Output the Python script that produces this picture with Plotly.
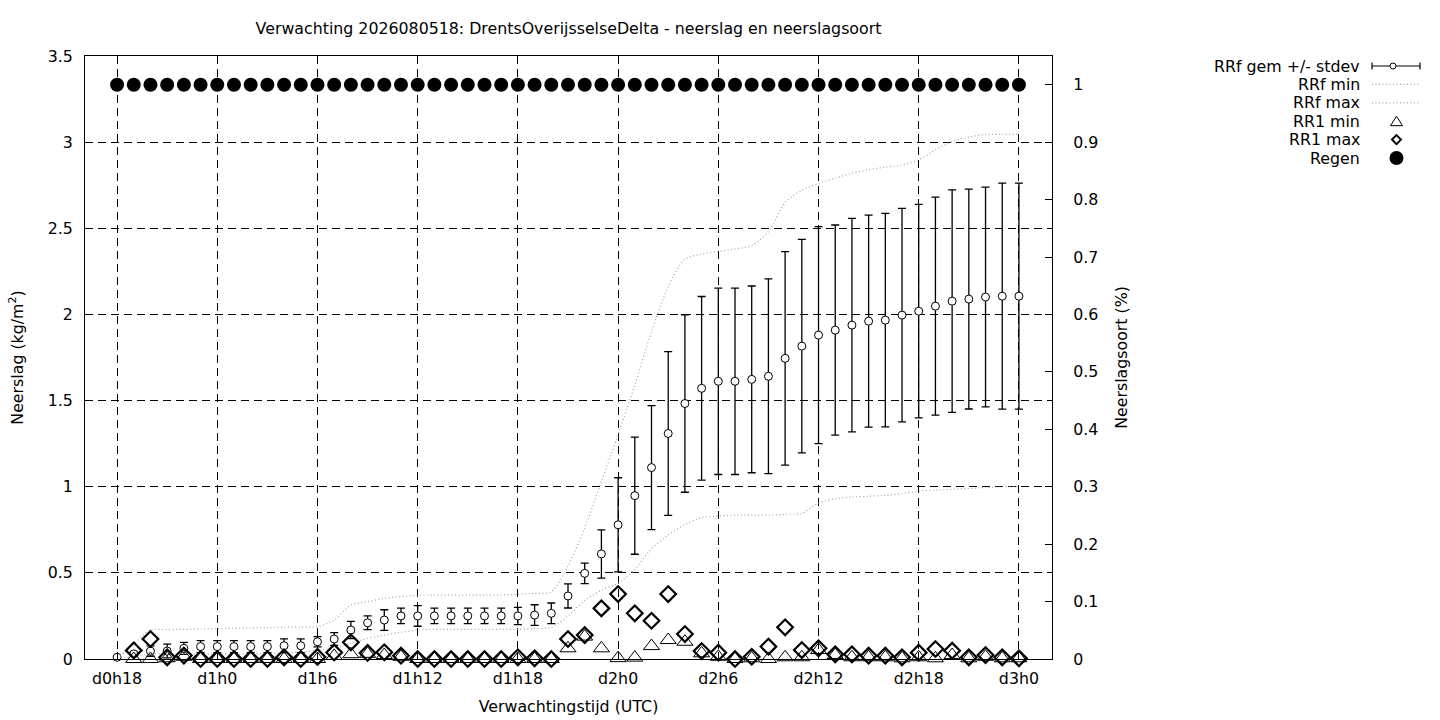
import plotly.graph_objects as go

# ---- data ----
lead_hours = list(range(18, 73))  # forecast hours d0h18 .. d3h0

tick_hours = [18, 24, 30, 36, 42, 48, 54, 60, 66, 72]
tick_labels = ["d0h18", "d1h0", "d1h6", "d1h12", "d1h18", "d2h0", "d2h6", "d2h12", "d2h18", "d3h0"]

rrf_mean = [0.01, 0.03, 0.046, 0.046, 0.062, 0.072, 0.072, 0.072, 0.072, 0.072,
            0.077, 0.077, 0.1, 0.116, 0.168, 0.21, 0.226, 0.25, 0.25, 0.25,
            0.25, 0.25, 0.25, 0.25, 0.25, 0.255, 0.265, 0.366, 0.497, 0.61,
            0.779, 0.948, 1.111, 1.309, 1.483, 1.571, 1.612, 1.612, 1.623, 1.641,
            1.745, 1.816, 1.88, 1.909, 1.938, 1.961, 1.967, 1.996, 2.019, 2.048,
            2.077, 2.089, 2.101, 2.106, 2.106]

rrf_std = [0.0, 0.01, 0.03, 0.04, 0.035, 0.035, 0.035, 0.035, 0.035, 0.035,
           0.04, 0.04, 0.03, 0.037, 0.05, 0.04, 0.06, 0.045, 0.06, 0.045,
           0.045, 0.045, 0.045, 0.045, 0.05, 0.06, 0.06, 0.07, 0.06, 0.14,
           0.273, 0.34, 0.36, 0.475, 0.515, 0.533, 0.541, 0.541, 0.542, 0.565,
           0.62, 0.62, 0.63, 0.61, 0.62, 0.615, 0.62, 0.62, 0.62, 0.633,
           0.646, 0.638, 0.638, 0.656, 0.656]

rrf_min = [0.0, 0.015, 0.03, 0.03, 0.03, 0.03, 0.03, 0.03, 0.03, 0.032,
           0.035, 0.04, 0.05, 0.065, 0.09, 0.12, 0.139, 0.155, 0.168, 0.172,
           0.172, 0.172, 0.172, 0.172, 0.172, 0.176, 0.184, 0.25, 0.34, 0.40,
           0.44, 0.52, 0.64, 0.72, 0.78, 0.82, 0.83, 0.835, 0.835, 0.835,
           0.84, 0.845, 0.905, 0.93, 0.94, 0.945, 0.95, 0.96, 0.975, 0.98,
           0.985, 0.99, 0.995, 1.0, 1.0]

rrf_max = [0.0, 0.085, 0.168, 0.17, 0.172, 0.174, 0.176, 0.178, 0.18, 0.182,
           0.184, 0.186, 0.188, 0.226, 0.313, 0.333, 0.352, 0.362, 0.371, 0.371,
           0.371, 0.371, 0.371, 0.371, 0.375, 0.381, 0.39, 0.54, 0.76, 1.03,
           1.30, 1.59, 1.90, 2.16, 2.32, 2.35, 2.365, 2.38, 2.40, 2.48,
           2.65, 2.72, 2.76, 2.79, 2.82, 2.84, 2.855, 2.868, 2.897, 2.955,
           3.004, 3.03, 3.045, 3.045, 3.045]

rr1_min = [None, 0.0, 0.0, 0.004, 0.013, 0.0, 0.0, 0.0, 0.0, 0.0,
           0.0, 0.0, 0.0, 0.018, 0.028, 0.03, 0.023, 0.013, 0.0, 0.0,
           0.0, 0.0, 0.0, 0.0, 0.0, 0.0, 0.0, 0.062, 0.13, 0.062,
           0.005, 0.008, 0.075, 0.11, 0.1, 0.033, 0.013, 0.0, 0.004, 0.0,
           0.01, 0.01, 0.052, 0.023, 0.01, 0.01, 0.01, 0.004, 0.01, 0.004,
           0.023, 0.004, 0.013, 0.004, 0.004]

rr1_max = [None, 0.05, 0.116, 0.01, 0.02, 0.0, 0.0, 0.0, 0.0, 0.0,
           0.01, 0.0, 0.012, 0.038, 0.097, 0.035, 0.039, 0.019, 0.0, 0.0,
           0.0, 0.0, 0.0, 0.0, 0.01, 0.004, 0.0, 0.116, 0.139, 0.294,
           0.377, 0.265, 0.222, 0.377, 0.145, 0.046, 0.037, 0.0, 0.013, 0.072,
           0.184, 0.052, 0.062, 0.027, 0.027, 0.019, 0.019, 0.01, 0.037, 0.058,
           0.048, 0.01, 0.023, 0.01, 0.004]

regen = [1.0] * 55

series_names = ["RRf gem +/- stdev", "RRf min", "RRf max", "RR1 min", "RR1 max", "Regen"]

# ---- figure ----
FONT = "DejaVu Sans"
FS = 15.8
GREY = "#a4a4a4"

# plot area in pixels (from the reference)
PL, PR, PT, PB = 85, 1052, 56, 659
W, H = 1440, 720


def px_x(px):
    return (px - PL) / (PR - PL)


def px_y(py):
    return (PB - py) / (PB - PT)


fig = go.Figure()

fig.add_trace(go.Scatter(
    x=lead_hours, y=rrf_mean, mode="markers", name=series_names[0], cliponaxis=False,
    marker=dict(symbol="circle", size=8, color="white", line=dict(color="black", width=1)),
    error_y=dict(type="data", array=rrf_std, symmetric=True, color="black", thickness=1.3, width=4),
))
fig.add_trace(go.Scatter(
    x=lead_hours, y=rrf_min, mode="lines", name=series_names[1],
    line=dict(color=GREY, width=1.2, dash="1px,2.5px", shape="spline", smoothing=0.8),
))
fig.add_trace(go.Scatter(
    x=lead_hours, y=rrf_max, mode="lines", name=series_names[2],
    line=dict(color=GREY, width=1.2, dash="1px,2.5px", shape="spline", smoothing=0.8),
))
fig.add_trace(go.Scatter(
    x=lead_hours, y=rr1_min, mode="markers", name=series_names[3], cliponaxis=False,
    marker=dict(symbol="triangle-up-open", size=14, color="black", line=dict(color="black", width=1)),
))
fig.add_trace(go.Scatter(
    x=lead_hours, y=rr1_max, mode="markers", name=series_names[4], cliponaxis=False,
    marker=dict(symbol="diamond-open", size=12, color="black", line=dict(color="black", width=2.2)),
))
fig.add_trace(go.Scatter(
    x=lead_hours, y=regen, mode="markers", name=series_names[5], yaxis="y2", cliponaxis=False,
    marker=dict(symbol="circle", size=14, color="black"),
))

# ---- gnuplot-style key: text right-aligned, sample to the right ----
row_y = [66, 84.4, 102.8, 121.2, 139.6, 158]
text_right = 1362
key_l, key_r, key_c = 1372, 1420, 1396.5
shapes = []
annotations = []
for name, ry in zip(series_names, row_y):
    annotations.append(dict(text=name, x=px_x(text_right), y=px_y(ry), xref="paper", yref="paper",
                            xanchor="right", yanchor="middle", showarrow=False,
                            font=dict(family=FONT, size=FS, color="black")))

# errorbar sample
r0 = row_y[0]
shapes.append(dict(type="line", xref="paper", yref="paper", x0=px_x(key_l), x1=px_x(key_r),
                   y0=px_y(r0), y1=px_y(r0), line=dict(color="black", width=1.2)))
for kx in (key_l, key_r):
    shapes.append(dict(type="line", xref="paper", yref="paper", x0=px_x(kx), x1=px_x(kx),
                       y0=px_y(r0 - 3.5), y1=px_y(r0 + 3.5), line=dict(color="black", width=1.2)))
shapes.append(dict(type="circle", xref="paper", yref="paper", x0=px_x(1390), x1=px_x(1396),
                   y0=px_y(r0 - 3), y1=px_y(r0 + 3), fillcolor="white", line=dict(color="black", width=1)))
# dotted samples
for ry in row_y[1:3]:
    shapes.append(dict(type="line", xref="paper", yref="paper", x0=px_x(key_l), x1=px_x(key_r),
                       y0=px_y(ry), y1=px_y(ry), line=dict(color=GREY, width=1.2, dash="1px,2.5px")))
# triangle sample
r3 = row_y[3]
tri = "M {a},{b} L {c},{d} L {e},{d} Z".format(
    a=px_x(key_c), b=px_y(r3 - 5), c=px_x(key_c - 6), d=px_y(r3 + 4.5), e=px_x(key_c + 6))
shapes.append(dict(type="path", xref="paper", yref="paper", path=tri, line=dict(color="black", width=1)))
# diamond sample
r4 = row_y[4]
dia = "M {a},{t} L {r},{m} L {a},{b} L {l},{m} Z".format(
    a=px_x(key_c), t=px_y(r4 - 4.5), r=px_x(key_c + 4.5), m=px_y(r4), b=px_y(r4 + 4.5), l=px_x(key_c - 4.5))
shapes.append(dict(type="path", xref="paper", yref="paper", path=dia, line=dict(color="black", width=2)))
# filled circle sample
r5 = row_y[5]
shapes.append(dict(type="circle", xref="paper", yref="paper", x0=px_x(key_c - 7), x1=px_x(key_c + 7),
                   y0=px_y(r5 - 7), y1=px_y(r5 + 7), fillcolor="black", line=dict(color="black", width=0)))

fig.update_layout(
    width=W, height=H,
    paper_bgcolor="white", plot_bgcolor="white",
    font=dict(family=FONT, size=FS, color="black"),
    margin=dict(l=PL, r=W - PR, t=PT, b=H - PB, autoexpand=False),
    title=dict(text="Verwachting 2026080518: DrentsOverijsselseDelta - neerslag en neerslagsoort",
               x=(PL + PR) / 2 / W, xanchor="center", y=1 - 28 / H, yanchor="middle",
               yref="container", font=dict(family=FONT, size=FS)),
    xaxis=dict(
        range=[16.08, 73.98], tickmode="array", tickvals=tick_hours, ticktext=tick_labels,
        ticks="inside", ticklen=7, tickcolor="black", mirror="ticks",
        showline=True, linecolor="black", linewidth=1,
        showgrid=True, gridcolor="black", gridwidth=1, griddash="8px,5px",
        zeroline=False, ticklabelstandoff=5, automargin=False,
        title=dict(text="Verwachtingstijd (UTC)", standoff=13, font=dict(size=FS)),
    ),
    yaxis=dict(
        range=[0, 3.5], dtick=0.5, tick0=0,
        ticks="inside", ticklen=7, tickcolor="black",
        showline=True, linecolor="black", linewidth=1, mirror=True,
        showgrid=True, gridcolor="black", gridwidth=1, griddash="8px,5px",
        zeroline=False, ticklabelstandoff=8, automargin=False,
        title=dict(text="Neerslag (kg/m<sup>2</sup>)", standoff=20, font=dict(size=FS)),
    ),
    yaxis2=dict(
        overlaying="y", side="right", range=[0, 1.05],
        tickmode="array", tickvals=[0, 0.1, 0.2, 0.3, 0.4, 0.5, 0.6, 0.7, 0.8, 0.9, 1.0],
        ticktext=["0", "0.1", "0.2", "0.3", "0.4", "0.5", "0.6", "0.7", "0.8", "0.9", "1"],
        ticks="inside", ticklen=7, tickcolor="black",
        showline=True, linecolor="black", linewidth=1,
        showgrid=False, zeroline=False, ticklabelstandoff=17, automargin=False,
        title=dict(text="Neerslagsoort (%)", standoff=18, font=dict(size=FS)),
    ),
    showlegend=False,
    shapes=shapes,
    annotations=annotations,
)

fig.write_html("out.html", config={"displayModeBar": False},
               post_script="document.body.style.margin='0';")
